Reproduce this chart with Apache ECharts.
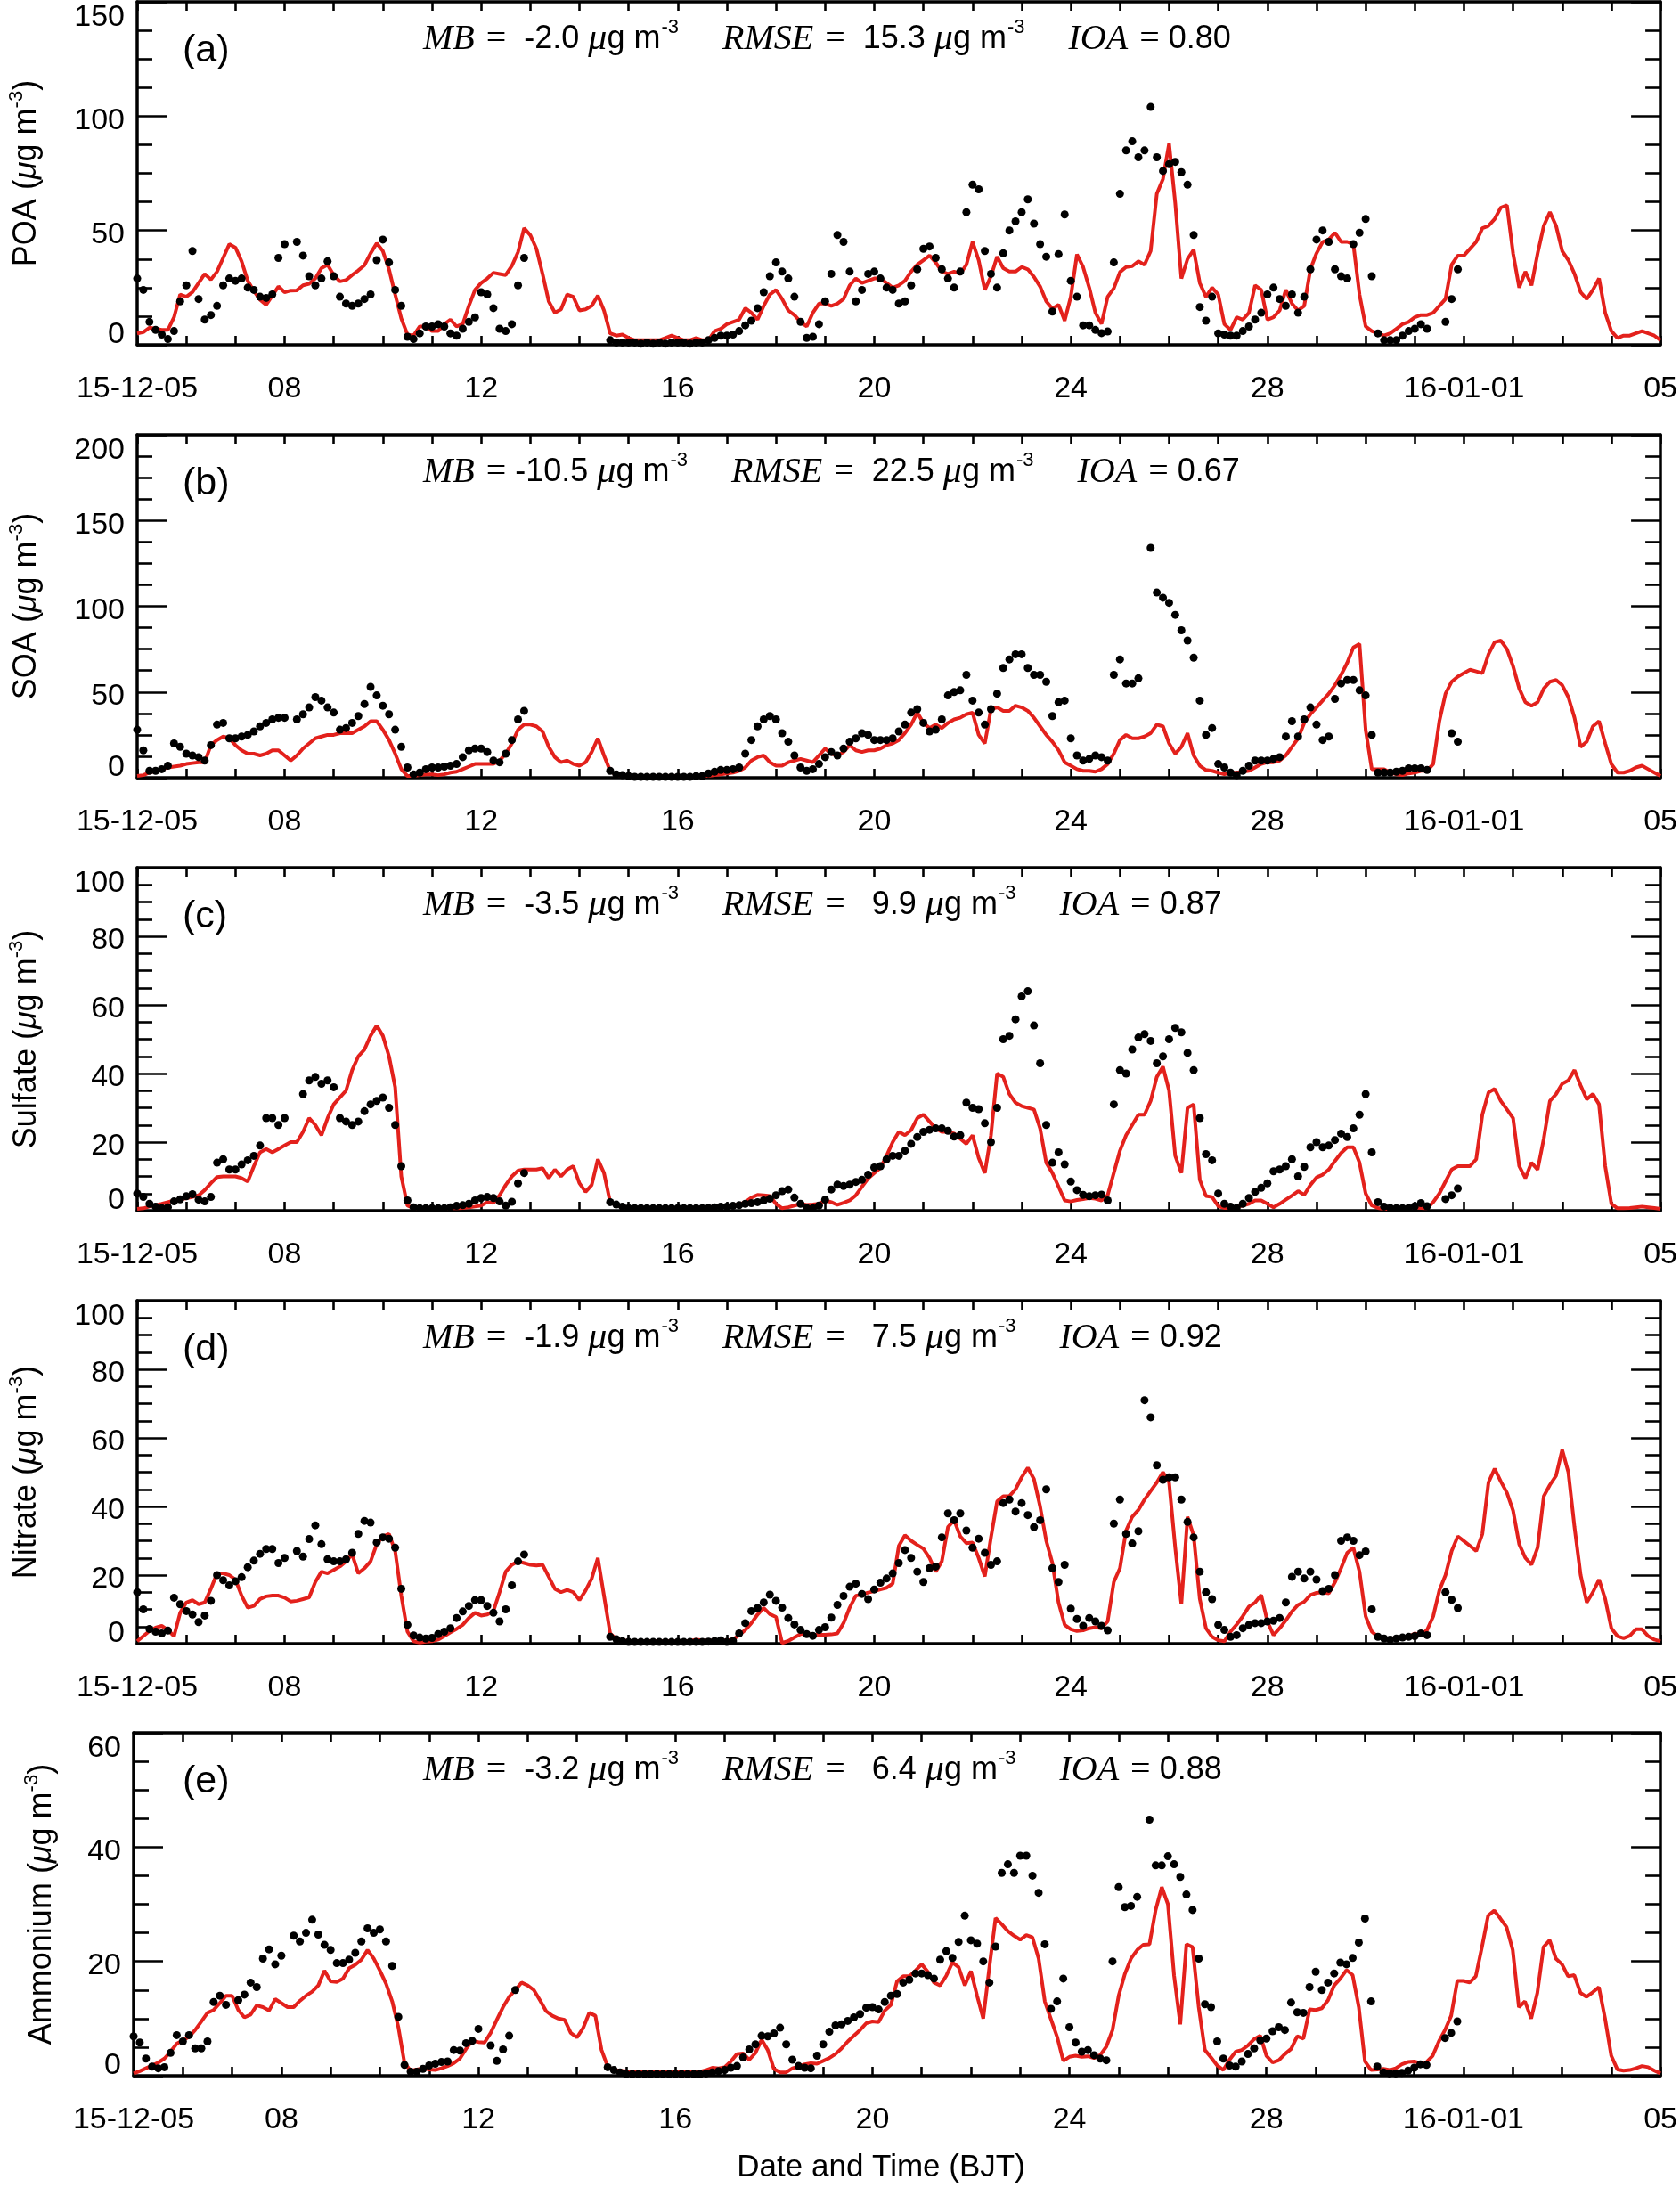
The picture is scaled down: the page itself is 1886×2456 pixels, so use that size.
<!DOCTYPE html>
<html>
<head>
<meta charset="utf-8">
<title>Organic and inorganic aerosol, model vs observation</title>
<script src="https://cdn.jsdelivr.net/npm/echarts@6/dist/echarts.min.js"></script>
<style>
  html, body { margin: 0; padding: 0; background: #fff; }
  #chart { width: 1886px; height: 2456px; }
</style>
</head>
<body>
<div id="chart"></div>
<script>
var n = null;

// time base: one sample every 3 h starting 15-12-05 00:00 (x in days)
var stepDays = 3 / 24;
var tickDays = [0, 3, 7, 11, 15, 19, 23, 27, 31];
var tickLabels = ['15-12-05', '08', '12', '16', '20', '24', '28', '16-01-01', '05'];

var panelNames = ['POA', 'SOA', 'Sulfate', 'Nitrate', 'Ammonium'];
var panelTags = ['(a)', '(b)', '(c)', '(d)', '(e)'];
var yMax = [150, 200, 100, 100, 60];
var yStep = [50, 50, 20, 20, 20];
var mbValues = ['-2.0', '-10.5', '-3.5', '-1.9', '-3.2'];
var rmseValues = ['15.3', '22.5', '9.9', '7.5', '6.4'];
var ioaValues = ['0.80', '0.67', '0.87', '0.92', '0.88'];

// model (red line), 3-hourly
var poaModel = [
  5, 5.5, 7.5, 7, 6.5, 6.5, 12, 22, 21, 23, 27, 31, 28.5, 32, 38, 44,
  42.5, 36.5, 28, 23.5, 19.7, 17.5, 21.5, 25.5, 23, 23.7, 23.8, 26, 26.7, 29, 33.5, 35,
  30.5, 27.7, 28.3, 30.5, 32.5, 34.8, 40, 44.4, 41, 33, 22, 11.5, 4.5, 4, 8, 8,
  6, 6, 9, 11, 8, 9, 17, 24, 27, 29, 31.5, 31, 30.5, 34.5, 40.5, 51,
  48, 42, 31, 19, 14, 15.5, 22, 21, 15, 15.5, 17, 21.5, 15, 5, 4, 4.5,
  3, 2, 2, 2, 2, 2, 3, 4, 3, 2, 2, 3, 2, 2, 6, 7,
  9, 10, 11, 16, 14, 11, 17, 22, 24, 20, 15, 13, 10, 8, 14, 18,
  18, 17, 18, 20, 26, 29, 27, 28, 29, 29, 27, 25, 26, 28, 32, 35,
  37, 39, 36, 32, 31, 32, 31, 35, 45, 37, 24, 30, 38.5, 33.5, 32, 32,
  34, 33, 29.7, 25.5, 19, 15.8, 17.5, 10.5, 21, 39.5, 34, 25, 14, 9.1, 21, 24.7,
  31.8, 34, 34.4, 36.5, 35, 41, 66, 72.5, 88, 62, 29, 37.5, 41.5, 27, 21, 25,
  22, 9, 6.5, 12, 11, 14, 26, 24, 11, 12, 15, 24, 18, 15, 17, 33,
  40, 45, 46, 49, 45, 45, 44, 22, 8, 6, 5, 4, 5, 7, 9, 10,
  12, 13, 13, 14, 17, 20, 35, 39, 39, 42, 45, 51, 52, 55, 60, 61,
  40, 25, 32, 26, 40, 52, 58, 52, 41, 37, 31, 23, 20, 24, 29, 14,
  6, 3, 4, 4, 5, 6, 5, 4,
  2
];
var soaModel = [
  1, 1.5, 3, 4, 5, 6, 6.5, 7, 8, 8.5, 9, 9, 19, 22, 24, 23,
  19, 16, 14, 14, 13, 14, 16, 16, 13, 10, 13, 17, 20, 23, 24, 25,
  25, 26, 26, 26, 28, 30, 33, 33, 28, 22, 14, 5, 1, 1, 1.5, 2,
  2, 1.5, 2, 3, 3.5, 5, 6.5, 8, 8, 8, 8, 10, 14, 20, 28, 31,
  31, 30, 27, 18, 12, 9, 10, 8, 7, 9, 15, 23, 13, 4, 1.5, 1,
  1, 1, 0.5, 0.5, 1, 1, 1, 1, 1, 0.5, 0.5, 0.5, 1, 1, 1.5, 2,
  2.5, 3, 4, 6, 10, 12, 13, 9, 7, 7, 9, 10, 11, 10, 9, 13,
  17, 14, 13, 15, 19, 16, 15, 16, 16, 17, 19, 20, 22, 26, 31, 38,
  32, 29, 31, 29, 32, 34, 35, 37, 38, 25, 20, 40, 41, 39, 39, 42,
  41, 39, 35, 30, 25, 21, 16, 9, 7, 5, 4, 4, 3.5, 5, 8, 14,
  22, 25, 23, 23, 24, 26, 31, 30, 20, 14, 18, 26, 13, 7, 4.5, 4,
  3, 2, 3, 3, 3.5, 4, 6, 8, 9, 9, 10, 13, 18, 23, 32, 37,
  41, 45, 49, 54, 60, 67, 76, 78, 28, 5, 5, 5, 3, 2, 1.5, 2.5,
  3, 4, 4, 8, 33, 49, 56, 59, 61, 63, 62, 61, 72, 79, 80, 75,
  65, 52, 44, 42, 44, 52, 56, 57, 54, 47, 35, 18, 21, 30, 33, 20,
  8, 3, 3, 4, 6, 7, 5, 3,
  1
];
var sulModel = [
  0.5, 0.7, 1.2, 1.6, 2, 2.5, 3, 3.3, 3.6, 4, 4.5, 6, 8, 9.8, 10, 10,
  10, 9.5, 8.5, 13, 17, 18, 17, 18, 19, 20, 20, 23, 27, 25, 22, 27,
  31, 33, 35, 41, 45, 47, 51, 54, 51, 45, 36, 10, 1.5, 0.7, 0.7, 0.7,
  0.7, 0.7, 0.7, 0.7, 0.7, 0.8, 1, 1.2, 1.5, 2.5, 2.3, 4.5, 7.5, 10, 11.7, 12,
  12, 12, 12.4, 9.5, 12, 10, 12, 13, 8, 5.5, 7.5, 15, 11, 2.5, 1.5, 1.2,
  1, 0.8, 0.7, 0.7, 0.7, 0.7, 0.7, 0.7, 0.7, 0.7, 0.7, 0.7, 0.8, 1, 1.2, 1.4,
  1.5, 1.6, 1.8, 2.5, 3.8, 4.6, 4.5, 4.3, 2, 0.7, 1, 1.5, 2, 1.7, 1.8, 2,
  3, 2.5, 1.7, 2.3, 3, 4.5, 7, 9.4, 11, 12.5, 16, 20, 23, 22, 23.5, 27,
  28, 26, 24, 23, 23, 22.5, 21, 19.5, 22, 15.4, 11, 22, 40, 39, 34, 31.5,
  30.5, 30, 29.5, 24, 14, 11, 7, 3, 2.7, 3.1, 3.4, 3.7, 3.5, 3, 4.5, 11,
  17.5, 22, 25, 28, 28, 32, 39, 42, 35, 16, 11, 30, 31, 9, 4.3, 4,
  1.3, 0.8, 0.8, 1.1, 1.5, 2, 3, 3, 2, 1, 2, 3.2, 4.4, 5.7, 4.6, 7.5,
  9.7, 10.5, 12, 14.5, 16.8, 18.5, 18.5, 14, 5, 1.5, 0.8, 0.5, 0.5, 0.5, 0.7, 0.9,
  1, 0.8, 0.7, 2.5, 5, 8.5, 12, 13, 13, 13, 15, 28, 34.5, 35.5, 32, 29.5,
  27, 13, 9.5, 14, 12, 21, 32, 34, 37, 38, 41, 36.5, 32.5, 34, 31, 13,
  2, 0.7, 0.7, 0.8, 1, 1.2, 1, 0.8,
  0.5
];
var nitModel = [
  0.7, 2.2, 3.7, 4.7, 5.2, 4, 2.2, 9, 12, 12.7, 11.5, 12, 16, 20.5, 20.5, 20,
  18.7, 14, 10.5, 11, 13, 13.8, 14, 14, 13.4, 12.3, 12.5, 13, 13.5, 18, 21, 20.5,
  21.5, 22.5, 24, 26, 20.5, 22, 24, 29, 31.3, 32, 27, 14, 3.5, 0.7, 0.3, 0.6,
  0.7, 1.2, 2.2, 3.3, 4.3, 5.5, 7.5, 9, 8.2, 8.5, 9.5, 15, 21, 23, 24, 23.5,
  23, 22.8, 23, 19.5, 16, 15, 15.7, 15, 12.7, 15.5, 19, 25, 14, 3, 1.3, 1,
  0.8, 0.8, 0.8, 0.8, 0.8, 0.8, 0.8, 0.8, 0.8, 0.8, 0.8, 1.2, 1, 0.9, 0.9, 1,
  1, 1.2, 2.5, 4, 6, 8.5, 10.4, 8.6, 7.8, 0.2, 0.8, 1.8, 2.8, 3, 2.6, 2.6,
  2.6, 2.7, 3, 6, 10.5, 14, 14.3, 14.9, 15.3, 15.8, 16.3, 17.5, 28.5, 31.6, 30, 28.8,
  27.7, 25, 21, 24, 34, 36, 31.3, 29.3, 29.5, 25, 19.6, 31, 41.5, 43, 43, 45,
  48.5, 51.3, 48, 40, 30, 23.5, 12, 5.5, 4.2, 3.7, 3.9, 4.5, 4.8, 4.5, 6.5, 18,
  22, 33, 37, 39, 42, 44.5, 47, 50, 47, 28, 11.5, 37, 31.5, 13, 4.5, 2,
  1, 0.7, 3.5, 5.6, 8, 10.8, 12, 14.2, 6.5, 2.5, 4.5, 6.8, 9.4, 11.3, 12.2, 14.2,
  14.8, 15, 14.7, 17.9, 22, 26.5, 28, 21, 8, 3.5, 2, 1.5, 1.5, 1.7, 1.5, 2,
  3, 2.5, 4, 8, 15.5, 20, 27, 31.3, 29.9, 28.5, 27, 32, 47, 51, 47.3, 44,
  38.8, 29, 25, 23, 28, 43, 46.3, 49, 56.5, 50, 34, 20, 12, 15, 18.7, 13,
  4.5, 2.2, 1.6, 2.3, 4.2, 4.2, 2.2, 1.2,
  0.7
];
var nh4Model = [
  0.4, 0.8, 1.3, 1.8, 2.3, 3, 4.2, 5.6, 6.2, 6.8, 8, 9.5, 11, 11.5, 12.7, 14,
  14, 11.5, 10.2, 10.7, 12.3, 12, 11.4, 13.4, 12.7, 12, 12, 13.1, 14, 14.7, 15.8, 18.4,
  16.5, 16.4, 17, 18.8, 19.4, 20.3, 22, 20.5, 18.4, 16.1, 13, 8.5, 2.2, 0.9, 1.1, 1.3,
  1.1, 1, 1.3, 1.7, 2.2, 3, 4.7, 6.1, 5.9, 5.8, 7.5, 9.8, 12, 13.8, 15, 16.3,
  15.8, 15, 13.2, 11.3, 10.5, 10, 9.8, 7.5, 6.7, 8.3, 11, 10.5, 4.5, 1.6, 1, 0.9,
  0.8, 0.7, 0.7, 0.7, 0.7, 0.7, 0.7, 0.7, 0.7, 0.7, 0.7, 0.7, 0.7, 1, 1.4, 1.3,
  1.5, 2.5, 3.8, 3.9, 2.8, 4, 6.3, 4.5, 1.2, 0.6, 0.6, 1.3, 1.6, 2, 2.2, 2.1,
  2.6, 3.1, 3.8, 4.8, 6, 7, 8, 9.2, 9.5, 9.4, 11.4, 12.4, 16.5, 17.4, 17.4, 18.4,
  19.5, 18.2, 16.3, 15.8, 17.5, 19.8, 19, 15.8, 18.3, 14, 10, 19, 27.6, 26.5, 25.3, 24.5,
  23.8, 24.6, 24.2, 20.5, 13, 9.9, 6.8, 2.6, 3.3, 3.5, 3.3, 3.4, 3.1, 3.6, 5.1, 8,
  14, 17.8, 20.5, 22, 22.9, 23, 29, 33, 30, 17.5, 9, 23, 22.5, 12, 4.5, 3.2,
  1.8, 1, 2.8, 4.2, 4.5, 5.3, 6.4, 7, 3.5, 2.3, 2.7, 3.8, 4.7, 6.9, 6.5, 11.6,
  11.5, 11.8, 13.2, 15.8, 17, 18.5, 17.6, 12, 2.5, 1, 1.1, 1.2, 1, 1.3, 2, 2.4,
  2.5, 2.2, 2.4, 3.5, 6, 8, 10.5, 16.6, 16.6, 16.3, 17.4, 22.5, 28, 28.9, 27.5, 26,
  22, 12, 13, 10, 14.5, 22.5, 23.7, 20.5, 19.5, 17.4, 17.6, 14.5, 13.8, 14.6, 15.5, 10,
  3.5, 1.1, 0.9, 1, 1.3, 1.7, 1.5, 0.9,
  0.4
];

// observations (black dots), 3-hourly, null = missing
var poaObs = [
  29, 24, 10, 6.5, 4.5, 2.5, 6, 19, 26, 41, 20, 11, 13, 17, 26, 29,
  28, 29, 25, 24, 21, 20.5, 22, 38, 44, n, 45, 39, 30, 26, 29, 36.5,
  30, 21, 18, 17, 18, 20, 22, 37, 46, 36, 24, 17, 3.5, 2.5, 5, 8,
  8, 9, 8, 5, 4, 7, 10, 12, 23, 22, 16, 7, 6, 9, 26, 38,
  n, n, n, n, n, n, n, n, n, n, n, n, n, 2, 1, 1,
  1, 1, 0.5, 1, 0.5, 1, 0.5, 1, 1, 1, 0.5, 1, 1, 2, 3, 4,
  4, 4.5, 6, 8.5, 10.5, 16, 23, 30, 36, 32, 29, 21, 10, 3, 3.5, 9,
  19, 31, 48, 45, 32, 19, 24, 31, 32, 29, 25, 24, 18, 19, 26, 33,
  42, 43, 38, 33, 29, 25, 32, 58, 70, 68, 41, 31, 25, 40, 50, 54,
  58, 63.6, 53, 44, 38.5, 14.5, 39.6, 57, 28, 21, 8.5, 8.5, 6.5, 5.1, 5.8, 36,
  66, 85, 89, 82, 85, 104, 82, 76, 79, 80, 75.5, 70, 48, 16.5, 10.5, 21,
  5, 4.5, 4, 4, 6, 8, 11, 14, 22, 25, 20, 17, 22, 14, 21, 33,
  46, 50, 45, 33, 30, 29, 44, 49, 55, 30, 5, 2, 2, 2, 4, 6,
  7, 9, 7, n, n, 10, 20, 33, n, n, n, n, n, n, n, n,
  n, n, n, n, n, n, n, n, n, n, n, n, n, n, n, n,
  n, n, n, n, n, n, n, n,
  n
];
var soaObs = [
  28, 16, 4, 4, 5, 7, 20, 18, 14, 13, 12, 10, 19, 31, 32, 23,
  23, 24, 25, 27, 30, 32, 34, 35, 35, n, 34, 37, 41, 47, 45, 41,
  38, 28, 29, 32, 36, 43, 53, 48, 42, 37, 28, 18, 6, 2, 3, 5,
  6, 6, 6.5, 7, 8, 12, 16, 17, 17, 15, 10, 9, 14, 22, 34, 39,
  n, n, n, n, n, n, n, n, n, n, n, n, n, 4, 2, 1.5,
  1, 0.5, 0.5, 0.5, 0.5, 0.5, 0.5, 0.5, 0.5, 0.5, 0.5, 1, 1, 2.5, 3.5, 4.5,
  4.5, 5, 6, 14, 22, 30, 34, 36, 34, 26, 21, 13, 6, 4, 5, 8,
  12, 15, 13, 17, 21, 23, 26, 25, 22, 22, 22, 23, 27, 31, 38, 40,
  32, 27, 28, 34, 48, 50, 51, 60, 45, 38, 31, 40, 49, 64, 69, 72,
  72, 64, 60, 60, 56, 36, 44, 45, 23, 13, 10, 11, 13, 12, 10, 60,
  69, 55, 55, 58, n, 134, 108, 105, 102, 95, 86, 80, 70, 45, 25, 29,
  8, 6, 3, 1.5, 4, 7, 10, 10, 10, 11, 12, 24, 33, 24, 34, 41,
  31, 22, 24, 46, 55, 57, 57, 51, 48, 25, 3, 3, 3, 3.5, 4, 5.5,
  5.5, 5.5, 4.5, n, n, n, 26, 21, n, n, n, n, n, n, n, n,
  n, n, n, n, n, n, n, n, n, n, n, n, n, n, n, n,
  n, n, n, n, n, n, n, n,
  n
];
var sulObs = [
  5, 4, 2, 1.2, 0.7, 1, 2.7, 3.3, 4.2, 4.8, 3.2, 2.7, 4, 14, 15, 12,
  12, 13.5, 14.7, 16, 19, 27, 27, 25, 27, n, n, 34, 38, 39, 37, 38,
  36, 27, 26, 25, 26, 29, 31, 32, 33, 30, 25, 13, 3, 1, 0.7, 0.7,
  0.7, 0.7, 0.7, 1, 1.4, 1.6, 2, 3, 3.7, 4, 3.7, 2.7, 1.5, 2.6, 8, 11,
  n, n, n, n, n, n, n, n, n, n, n, n, n, 2.5, 1.8, 1.2,
  0.7, 0.7, 0.7, 0.7, 0.7, 0.7, 0.7, 0.7, 0.7, 0.7, 0.7, 0.7, 0.7, 0.8, 1, 1.2,
  1.2, 1.4, 1.6, 2, 2.2, 2.5, 3, 3.5, 4.5, 5.7, 6.2, 3.8, 2, 0.8, 0.7, 1.5,
  3.2, 6.2, 7.6, 7.2, 7.6, 8.4, 9, 10.5, 12.6, 13, 15, 16, 16, 17.5, 19.5, 21.5,
  23, 23.6, 24, 24, 23.3, 21.6, 22, 31.5, 30, 29.6, 25.5, 20, 30, 50, 51, 55.8,
  62.5, 64, 54, 43, 25, 14, 17, 13.5, 8.5, 6, 4.6, 4.2, 4.5, 4.7, 3, 31,
  41, 40, 47, 50.5, 51.5, 49.5, 43, 45, 50, 53.3, 52, 46, 41, 27, 16.5, 14.7,
  5, 2, 1.2, 0.8, 2, 3.7, 5.5, 6.7, 8, 11.5, 12, 13, 15, 10, 12.8, 18.5,
  20, 18.5, 19, 20.6, 22.5, 21.5, 24, 28, 34, 17, 2.5, 1.2, 0.8, 0.7, 0.7, 0.8,
  1.3, 2.2, 1.3, n, n, 3.4, 4.5, 6.5, n, n, n, n, n, n, n, n,
  n, n, n, n, n, n, n, n, n, n, n, n, n, n, n, n,
  n, n, n, n, n, n, n, n,
  n
];
var nitObs = [
  15, 10, 4.3, 3.5, 3, 3.8, 13.4, 11.5, 9.5, 8.5, 6.3, 8.2, 12.5, 20, 18.5, 17,
  18.2, 19.4, 22.3, 24.2, 26.2, 27.6, 27.6, 23.5, 25, n, 27, 25.4, 30.5, 34.5, 29, 24.6,
  24, 24, 24.6, 26.5, 32, 35.8, 35.3, 29.5, 31, 30.6, 28, 16, 5.5, 2.4, 1.8, 1.5,
  1.7, 2.8, 3.5, 4.5, 7.5, 9.4, 11, 12.7, 12.7, 11, 9, 6.5, 10, 17, 24, 26,
  n, n, n, n, n, n, n, n, n, n, n, n, n, 2, 1.3, 0.7,
  0.5, 0.5, 0.5, 0.5, 0.5, 0.5, 0.5, 0.5, 0.5, 0.5, 0.5, 0.5, 0.5, 0.6, 0.8, 1,
  0.5, 0.8, 3, 6, 9.5, 10.4, 12, 14.3, 12.5, 10.5, 7.5, 5.6, 4, 2.8, 2.3, 4,
  4.8, 7.6, 11.3, 13.9, 16.6, 17.5, 14.5, 13, 15.8, 17.8, 19, 20.5, 23.5, 27.3, 25, 21,
  18, 22, 22.5, 31, 38, 36, 38, 33, 28, 30.6, 26.5, 23, 24, 41, 42, 38.5,
  41, 37.5, 34, 36, 45, 22, 18, 23, 10.2, 7.2, 5.2, 7.5, 6.5, 5.2, 3.9, 35,
  42, 32, 29.2, 32.8, 71, 66, 52, 47.8, 48.5, 48.5, 42, 35.5, 31, 21, 15, 13,
  5.5, 4, 2, 2.5, 4.5, 5.5, 6, 6, 6.5, 6.7, 7.5, 12, 19.5, 21, 19, 21,
  18.7, 15.3, 16, 20, 30, 31, 30, 25.8, 26.9, 10, 2, 1.5, 1.2, 1.5, 1.8, 2,
  2.2, 3, 2.5, n, n, 15, 12.8, 10.4, n, n, n, n, n, n, n, n,
  n, n, n, n, n, n, n, n, n, n, n, n, n, n, n, n,
  n, n, n, n, n, n, n, n,
  n
];
var nh4Obs = [
  6.9, 5.8, 3, 1.6, 1.3, 1.5, 4, 7.1, 6, 7.1, 4.8, 4.8, 6, 12.9, 14, 12.4,
  n, 13.2, 14.2, 16.3, 15.5, 20.5, 22.1, 19.5, 21, n, 24.5, 23.5, 25, 27.3, 24.7, 22.9,
  22, 19.7, 19.7, 20.3, 21.5, 23.5, 25.8, 25, 25.6, 23.5, 19.2, 10.3, 1.9, 0.7, 0.7, 1.2,
  1.8, 2.1, 2.4, 2.5, 4.5, 4.4, 5.7, 6.1, 8.2, n, 5.3, 2.6, 4.6, 7, 15, n,
  n, n, n, n, n, n, n, n, n, n, n, n, n, 1.5, 1, 0.6,
  0.3, 0.3, 0.3, 0.3, 0.3, 0.3, 0.3, 0.3, 0.3, 0.3, 0.3, 0.3, 0.3, 0.4, 0.6, 0.8,
  1, 1.4, 1.7, 3.2, 4.6, 5.5, 7, 6.9, 7.4, 8.4, 5.5, 2.8, 1.7, 1.4, 1.3, 3.5,
  5.5, 7.7, 8.8, 9, 9.6, 10.2, 10.8, 11.9, 12, 11.6, 12.9, 14, 14.3, 16.3, 16.8, 17.9,
  17.9, 17.6, 17, 20.3, 21.8, 20.6, 23.4, 28, 23.7, 23.1, 20, 16.3, 22.6, 35.5, 37, 35.5,
  38.5, 38.5, 35, 32, 23, 11.7, 13, 17, 8.5, 5.8, 4.2, 4.5, 3.6, 3, 2.7, 20,
  33, 29.5, 29.7, 31.3, n, 44.8, 36.8, 36.8, 38.4, 37, 34.8, 31.7, 29, 20.5, 12.5, 12,
  6, 3, 1.8, 1.6, 2.5, 3.8, 4.8, 6.2, 6.5, 7.8, 8.5, 8, 12.8, 11.1, 11, 15.5,
  18.2, 15, 16.3, 17.9, 19.8, 19.5, 20.6, 23.3, 27.5, 13, 1.6, 0.6, 0.4, 0.4, 0.5, 0.9,
  1.4, 2, 1.9, n, n, 6.6, 7.5, 9.5, n, n, n, n, n, n, n, n,
  n, n, n, n, n, n, n, n, n, n, n, n, n, n, n, n,
  n, n, n, n, n, n, n, n,
  n
];

var models = [poaModel, soaModel, sulModel, nitModel, nh4Model];
var observed = [poaObs, soaObs, sulObs, nitObs, nh4Obs];

(function() {
  var RED = '#e3211c';
  var black = '#000';
  var SANS = "'Liberation Sans', Arial, Helvetica, sans-serif";
  var SERIF = "'Liberation Serif', 'Times New Roman', serif";

  var gridTops = [2, 488, 974, 1460, 1945];
  var gridHeight = 385;
  var nameGaps = [102, 102, 102, 102, 81];

  function pad5(s) {
    while (s.length < 5) s = ' ' + s;
    return s;
  }

  function xLabel(v) {
    for (var i = 0; i < tickDays.length; i++) {
      if (Math.abs(v - tickDays[i]) < 1e-6) return tickLabels[i];
    }
    return '';
  }

  function yLabel(max) {
    return function(v) {
      if (v === 0) return '{lo|0}';
      if (v === max) return '{hi|' + v + '}';
      return '{mid|' + v + '}';
    };
  }

  var grids = [], xAxes = [], yAxes = [], series = [], graphics = [];

  for (var p = 0; p < 5; p++) {
    var panelTop = gridTops[p];
    grids.push({ left: 150, right: 19, top: panelTop, height: gridHeight });

    var xBottom = {
      type: 'value', gridIndex: p, position: 'bottom',
      min: 0, max: 31, interval: 1,
      axisLine: { show: true, onZero: false, lineStyle: { color: black, width: 3.5 } },
      axisTick: { show: true, inside: true, length: 10, lineStyle: { color: black, width: 2.6 } },
      axisLabel: {
        show: true, formatter: xLabel, margin: 33, showMinLabel: true, showMaxLabel: true,
        color: black, fontFamily: SANS, fontSize: 34
      },
      splitLine: { show: false }
    };
    if (p === 4) {
      xBottom.name = 'Date and Time (BJT)';
      xBottom.nameLocation = 'middle';
      xBottom.nameGap = 86;
      xBottom.nameTextStyle = { color: black, fontFamily: SANS, fontSize: 35, padding: [0, 36, 0, 0] };
    }
    xAxes.push(xBottom);
    xAxes.push({
      type: 'value', gridIndex: p, position: 'top',
      min: 0, max: 31, interval: 1,
      axisLine: { show: true, onZero: false, lineStyle: { color: black, width: 3.5 } },
      axisTick: { show: true, inside: true, length: 10, lineStyle: { color: black, width: 2.6 } },
      axisLabel: { show: false },
      splitLine: { show: false }
    });

    yAxes.push({
      type: 'value', gridIndex: p, position: 'left',
      min: 0, max: yMax[p], interval: yStep[p],
      name: panelNames[p] + ' ({mu|\u03bc}g m{sup|-3})',
      nameLocation: 'middle', nameGap: nameGaps[p], nameRotate: 90,
      nameTextStyle: {
        color: black, fontFamily: SANS, fontSize: 36, lineHeight: 44,
        rich: {
          mu: { color: black, fontFamily: SANS, fontStyle: 'italic', fontSize: 36, lineHeight: 44 },
          sup: { color: black, fontFamily: SANS, fontSize: 22, lineHeight: 20, verticalAlign: 'top' }
        }
      },
      axisLine: { show: true, onZero: false, lineStyle: { color: black, width: 3.5 } },
      axisTick: { show: true, inside: true, length: 33, lineStyle: { color: black, width: 2.6 } },
      minorTick: { show: true, splitNumber: 4, length: 17, lineStyle: { color: black, width: 2.6 } },
      axisLabel: {
        show: true, margin: 14, formatter: yLabel(yMax[p]),
        color: black, fontFamily: SANS, fontSize: 34,
        rich: {
          lo: { color: black, fontFamily: SANS, fontSize: 34, padding: [0, 0, 22, 0] },
          mid: { color: black, fontFamily: SANS, fontSize: 34, padding: [10, 0, 0, 0] },
          hi: { color: black, fontFamily: SANS, fontSize: 34, padding: [36, 0, 0, 0] }
        }
      },
      splitLine: { show: false }
    });
    yAxes.push({
      type: 'value', gridIndex: p, position: 'right',
      min: 0, max: yMax[p], interval: yStep[p],
      axisLine: { show: true, onZero: false, lineStyle: { color: black, width: 3.5 } },
      axisTick: { show: true, inside: true, length: 33, lineStyle: { color: black, width: 2.6 } },
      minorTick: { show: true, splitNumber: 4, length: 17, lineStyle: { color: black, width: 2.6 } },
      axisLabel: { show: false },
      splitLine: { show: false }
    });

    var lineData = models[p].map(function(v, i) { return [i * stepDays, v]; });
    var dotData = [];
    observed[p].forEach(function(v, i) { if (v !== null) dotData.push([i * stepDays, v]); });

    series.push({
      type: 'line', xAxisIndex: 2 * p, yAxisIndex: 2 * p,
      data: lineData, showSymbol: false, symbol: 'none',
      lineStyle: { color: RED, width: 4 }, itemStyle: { color: RED },
      z: 2, silent: true
    });
    series.push({
      type: 'scatter', xAxisIndex: 2 * p, yAxisIndex: 2 * p,
      data: dotData, symbol: 'circle', symbolSize: 9,
      itemStyle: { color: black, opacity: 1 }, z: 3, silent: true
    });

    graphics.push({
      type: 'text', x: 205, y: panelTop + 55, silent: true,
      style: { text: panelTags[p], fill: black, fontFamily: SANS, fontSize: 43, verticalAlign: 'middle' }
    });

    var stats =
      '{it|MB}{eq|=}{t|' + pad5(mbValues[p]) + ' }{mu|\u03bc}{t|g m}{sup|-3}{t|    }' +
      '{it|RMSE}{eq|=}{t|' + pad5(rmseValues[p]) + ' }{mu|\u03bc}{t|g m}{sup|-3}{t|    }' +
      '{it|IOA}{eq|=}{t|' + ioaValues[p] + '}';
    graphics.push({
      type: 'text', x: 475, y: panelTop + 42, silent: true,
      style: {
        text: stats, fill: black, fontFamily: SANS, fontSize: 36,
        align: 'left', verticalAlign: 'middle',
        rich: {
          t: { fill: black, fontFamily: SANS, fontSize: 36, lineHeight: 48 },
          it: { fill: black, fontFamily: SERIF, fontStyle: 'italic', fontSize: 40, lineHeight: 48 },
          eq: { fill: black, fontFamily: SERIF, fontSize: 40, lineHeight: 48, padding: [0, 10, 0, 13] },
          mu: { fill: black, fontFamily: SERIF, fontStyle: 'italic', fontSize: 42, lineHeight: 48 },
          sup: { fill: black, fontFamily: SANS, fontSize: 22, lineHeight: 24, verticalAlign: 'top', padding: [0, 9, 0, 1] }
        }
      }
    });
  }

  var chart = echarts.init(document.getElementById('chart'), null, { renderer: 'canvas' });
  chart.setOption({
    animation: false,
    backgroundColor: '#fff',
    grid: grids,
    xAxis: xAxes,
    yAxis: yAxes,
    series: series,
    graphic: graphics
  });
  window.addEventListener('resize', function() { chart.resize(); });
})();
</script>
</body>
</html>
